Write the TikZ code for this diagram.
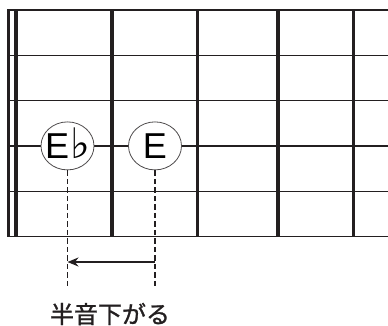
\documentclass[tikz,border=0pt]{standalone}
\usepackage{fontspec}
\setmainfont{Noto Sans CJK JP}
\newfontfamily\capfont[FakeBold=1.2]{Noto Sans CJK JP}
\newfontfamily\notefont{Liberation Sans}
\newfontfamily\symfont{DejaVu Sans}
\usepackage{xcolor}
\usetikzlibrary{arrows.meta,shapes.geometric}
\definecolor{ink}{HTML}{231F20}
\newcommand{\flatsign}{\smash{\symfont\fontsize{42}{42}\selectfont ♭}}
\tikzset{
  fretString/.style={draw=ink, line width=1.3pt},
  fretBar/.style={draw=ink, line width=3.3pt},
  noteMark/.style={ellipse, draw=ink!80, fill=white, line width=0.8pt,
    minimum width=53pt, minimum height=48pt, inner sep=0pt,
    font=\notefont\fontsize{36}{36}\selectfont},
  guideLine/.style={draw=ink, line width=1.2pt, dash pattern=on 5.5pt off 3pt},
  moveArrow/.style={draw=ink, line width=2.5pt, -{Stealth[length=11pt,width=9pt]}},
  captionText/.style={text=ink, font=\capfont\fontsize{24}{24}\selectfont}
}

\begin{document}
\begin{tikzpicture}[x=1pt, y=-1pt]
  \useasboundingbox (0,0) rectangle (388,326);

  % strings
  \foreach \s in {0,...,5}
    \draw[fretString] (7,10+45.3*\s) -- (388,10+45.3*\s);

  % nut and frets
  \draw[fretBar] (8.3,9.4) -- (8.3,237.1);
  \draw[fretBar] (16,9.4) -- (16,237.1);
  \foreach \x in {112,197.5,278,353.7}
    \draw[fretBar] (\x,9.4) -- (\x,237.1);

  % notes
  \node[noteMark] (eflat) at (67.5,145.9) {\makebox[30pt]{E\hspace{1pt}\flatsign}};
  \node[noteMark] (enat) at (155,145.9) {E};

  \coordinate (eflatEnd) at (eflat.center |- 0,286);
  \coordinate (enatEnd) at (enat.center |- 0,286);
  \draw[guideLine] (eflat.south) -- (eflatEnd);
  \draw[guideLine] (enat.south) -- (enatEnd);

  \coordinate (arrowFrom) at (enat.center |- 0,262);
  \coordinate (arrowTo) at (eflat.center |- 0,262);
  \draw[moveArrow] (arrowFrom) -- (arrowTo);

  \node[captionText] (shift) at (110,314) {半音下がる};
\end{tikzpicture}
\end{document}
